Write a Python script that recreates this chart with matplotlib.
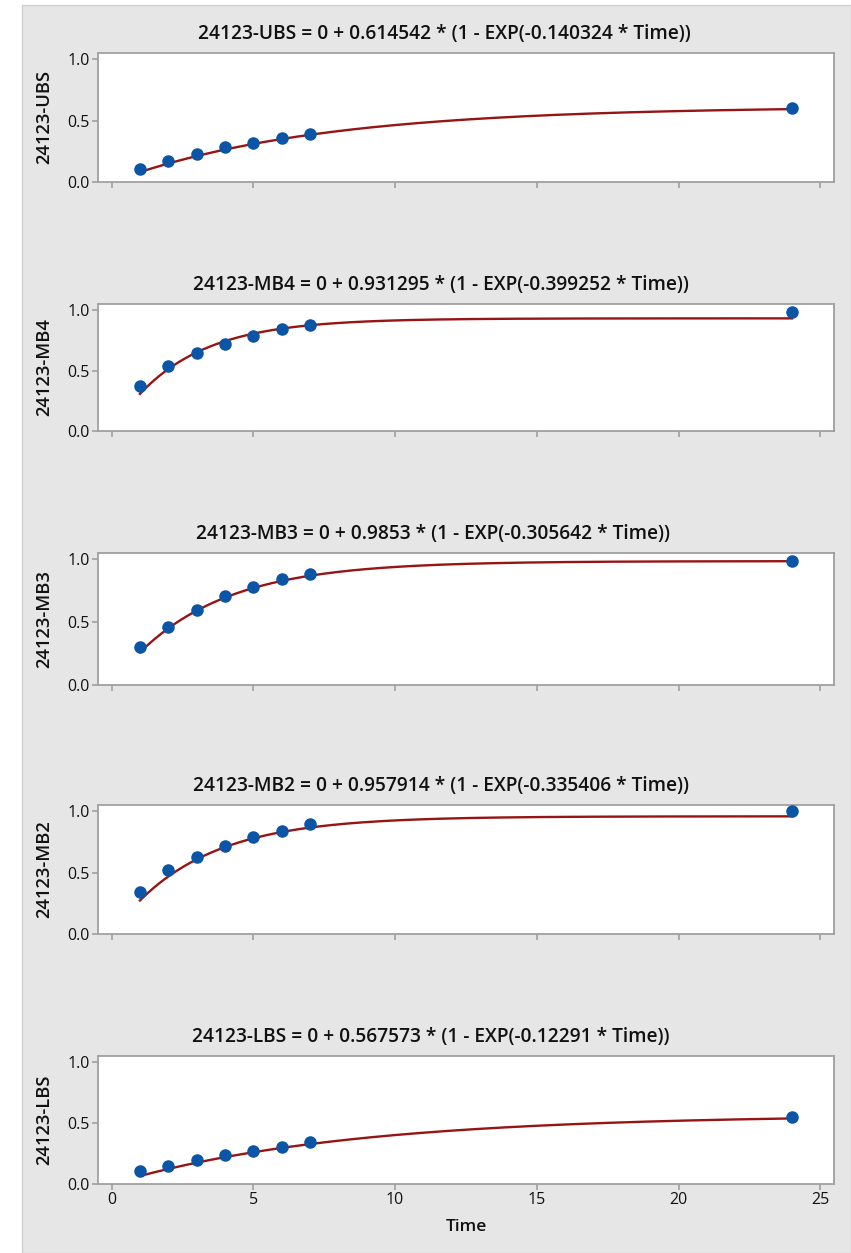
import numpy as np
import matplotlib
matplotlib.use("Agg")
import matplotlib.pyplot as plt
from matplotlib.patches import Rectangle

plt.rcParams['font.family'] = ['Open Sans', 'DejaVu Sans']

# measured data
time = [1, 2, 3, 4, 5, 6, 7, 24]
names = ['24123-UBS', '24123-MB4', '24123-MB3', '24123-MB2', '24123-LBS']
ubs = [0.104, 0.175, 0.229, 0.283, 0.319, 0.357, 0.390, 0.600]
mb4 = [0.372, 0.535, 0.642, 0.716, 0.785, 0.840, 0.879, 0.980]
mb3 = [0.300, 0.460, 0.600, 0.706, 0.778, 0.845, 0.883, 0.985]
mb2 = [0.339, 0.520, 0.627, 0.717, 0.786, 0.840, 0.896, 1.000]
lbs = [0.109, 0.148, 0.199, 0.235, 0.270, 0.306, 0.342, 0.552]
series = [ubs, mb4, mb3, mb2, lbs]

# fitted model: y = 0 + a * (1 - exp(-b * Time))
fit_a = [0.614542, 0.931295, 0.9853, 0.957914, 0.567573]
fit_b = [0.140324, 0.399252, 0.305642, 0.335406, 0.12291]
fit_a_txt = ['0.614542', '0.931295', '0.9853', '0.957914', '0.567573']
fit_b_txt = ['0.140324', '0.399252', '0.305642', '0.335406', '0.12291']

W, H = 851, 1253
fig = plt.figure(figsize=(W / 100, H / 100), dpi=100)
fig.patch.set_facecolor('white')
fig.patches.append(Rectangle((22 / W, 0), 1 - 22 / W, 1 - 5 / H, transform=fig.transFigure,
                             facecolor='#e6e6e6', edgecolor='#d0d0d0', linewidth=1, zorder=-10))

# panel top / bottom in pixels, title centre x
panels = [(53, 182), (304, 431), (553, 685), (805, 934), (1056, 1184)]
title_cx = [444, 441, 433, 441, 431]
left, right = 98, 834
spine_col = '#a0a0a0'
txt_col = '#111111'

for i, (top, bot) in enumerate(panels):
    ax = fig.add_axes([left / W, 1 - bot / H, (right - left) / W, (bot - top) / H])
    ax.set_facecolor('white')
    xs = np.linspace(1, 24, 400)
    ax.plot(xs, fit_a[i] * (1 - np.exp(-fit_b[i] * xs)), color='#961414', lw=1.7, zorder=2)
    ax.plot(time, series[i], 'o', color='#0a55a5', ms=8, zorder=3)
    ax.set_xlim(-0.48, 25.48)
    ax.set_ylim(0, 1.05)
    ax.set_yticks([0, 0.5, 1.0])
    ax.set_yticklabels(['0.0', '0.5', '1.0'])
    ax.set_xticks([0, 5, 10, 15, 20, 25])
    for s in ax.spines.values():
        s.set_color(spine_col)
        s.set_linewidth(1.3)
    ax.tick_params(direction='out', length=4, width=1.2, color=spine_col,
                   labelsize=11.5, labelcolor=txt_col, pad=2)
    if i < len(panels) - 1:
        ax.set_xticklabels([])
    else:
        ax.set_xlabel('Time', fontsize=12.5, fontweight='semibold', color=txt_col, labelpad=8)
    ax.set_ylabel(names[i], fontsize=13.2, fontweight='semibold', color=txt_col, labelpad=10)
    t = ax.set_title(f'{names[i]} = 0 + {fit_a_txt[i]} * (1 - EXP(-{fit_b_txt[i]} * Time))',
                     fontsize=13.8, fontweight='semibold', color=txt_col, pad=10)
    t.set_x((title_cx[i] - left) / (right - left))

fig.savefig('out.png', dpi=100, facecolor=fig.get_facecolor())
